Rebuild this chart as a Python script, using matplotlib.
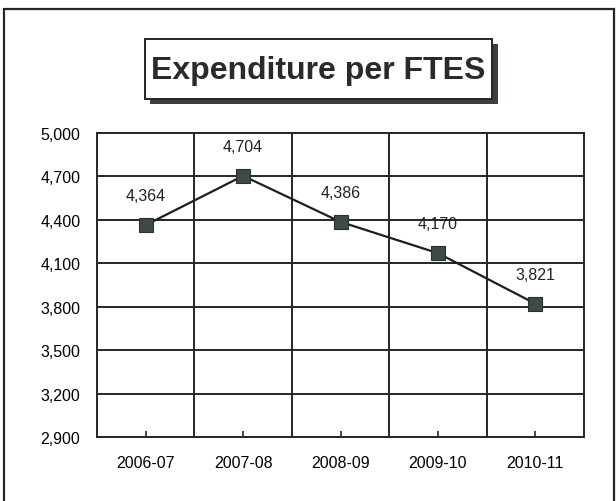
import matplotlib.pyplot as plt
from matplotlib.patches import Rectangle

years = ["2006-07", "2007-08", "2008-09", "2009-10", "2010-11"]
spend = [4364, 4704, 4386, 4170, 3821]
yticks = [2900, 3200, 3500, 3800, 4100, 4400, 4700, 5000]

W, H = 616, 502
plt.rcParams["font.family"] = ["Liberation Sans", "DejaVu Sans"]

fig = plt.figure(figsize=(W / 100, H / 100), dpi=100)


def px(x0, y0, x1, y1):
    # pixel box (top-left origin) -> figure fraction rect
    return [x0 / W, 1 - y1 / H, (x1 - x0) / W, (y1 - y0) / H]


ink = "#262626"

# outer frame
r = px(4, 10, 614, 520)
fig.add_artist(Rectangle((r[0], r[1]), r[2], r[3], transform=fig.transFigure,
                         fill=False, edgecolor=ink, linewidth=1.6))

# title box with drop shadow
s = px(150, 45, 498, 105)
fig.add_artist(Rectangle((s[0], s[1]), s[2], s[3], transform=fig.transFigure,
                         facecolor="#3b403d", edgecolor="none"))
b = px(145, 40, 492, 100)
fig.add_artist(Rectangle((b[0], b[1]), b[2], b[3], transform=fig.transFigure,
                         facecolor="white", edgecolor=ink, linewidth=1.4))
fig.text((145 + 492) / 2 / W, 1 - 71 / H, "Expenditure per FTES",
         ha="center", va="center", fontsize=23, fontweight="bold", color="#2a2a2a")

ax = fig.add_axes(px(97, 134, 584, 438))
x = range(len(years))
ax.plot(x, spend, color="#1e1e1e", linewidth=1.6, marker="s", markersize=10.5,
        markerfacecolor="#3d4a45", markeredgecolor="#2a302d", markeredgewidth=0.8,
        zorder=5)
for i, v in enumerate(spend):
    ax.annotate(f"{v:,}", (i, v), xytext=(0, 21), textcoords="offset points",
                ha="center", va="center", fontsize=11.5, color="#222222")

ax.set_xlim(-0.5, len(years) - 0.5)
ax.set_ylim(yticks[0], yticks[-1])
ax.set_yticks(yticks)
ax.set_yticklabels([f"{t:,}" for t in yticks])
ax.set_xticks(list(x))
ax.set_xticklabels(years)
ax.set_xticks([i - 0.5 for i in range(1, len(years))], minor=True)

ax.grid(axis="y", color=ink, linewidth=1.4)
ax.grid(axis="x", which="minor", color=ink, linewidth=1.4)
ax.tick_params(axis="x", which="major", direction="in", length=4, width=1.2,
               color=ink, labelsize=11.5, pad=13)
ax.tick_params(axis="x", which="minor", length=0)
ax.tick_params(axis="y", length=0, labelsize=11.5, pad=12)
for sp in ax.spines.values():
    sp.set_color(ink)
    sp.set_linewidth(1.4)
ax.set_axisbelow(True)

fig.savefig("out.png", dpi=100)
